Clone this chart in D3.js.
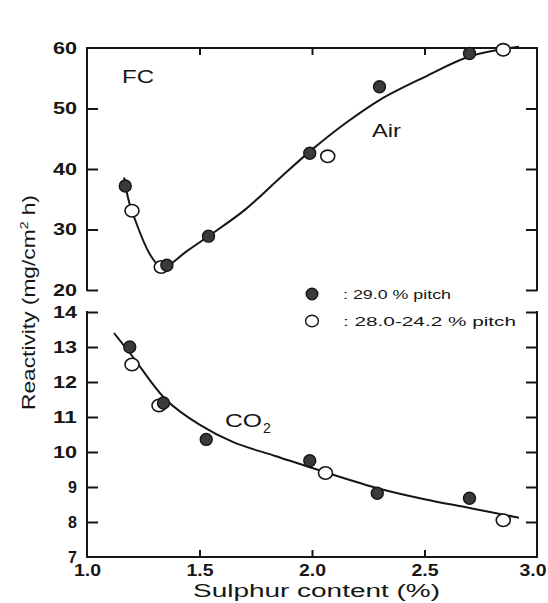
<!DOCTYPE html>
<html>
<head>
<meta charset="utf-8">
<script src="https://cdn.jsdelivr.net/npm/d3@7"></script>
<style>
  html, body { margin: 0; padding: 0; background: #fff; }
  svg { display: block; }
  text { font-family: "Liberation Sans", Arial, Helvetica, sans-serif; fill: #161616; }
</style>
</head>
<body>
<svg id="chart" width="548" height="603"></svg>
<script>
// ---- Data ----
const airFilledX = [1.17, 1.355, 1.54, 1.99, 2.30, 2.70];
const airFilledY = [37.2, 24.1, 28.9, 42.6, 53.6, 59.1];
const airOpenX   = [1.20, 1.33, 2.07, 2.85];
const airOpenY   = [33.1, 23.8, 42.1, 59.7];

const co2FilledX = [1.19, 1.34, 1.53, 1.99, 2.29, 2.70];
const co2FilledY = [13.0, 11.4, 10.36, 9.75, 8.82, 8.68];
const co2OpenX   = [1.20, 1.32, 2.06, 2.85];
const co2OpenY   = [12.5, 11.33, 9.4, 8.05];

// hand-drawn fitted curves
const airFitX = [1.165, 1.2, 1.33, 1.45, 1.54, 1.7, 1.86, 2.0, 2.15, 2.3, 2.5, 2.7, 2.92];
const airFitY = [38.6, 33.0, 23.9, 26.6, 28.9, 33.2, 38.6, 43.2, 47.6, 51.4, 55.2, 58.6, 60.2];
const co2FitX = [1.12, 1.2, 1.35, 1.5, 1.65, 1.84, 2.06, 2.3, 2.5, 2.7, 2.92];
const co2FitY = [13.4, 12.75, 11.5, 10.78, 10.28, 9.88, 9.42, 8.95, 8.65, 8.4, 8.12];

const xTicks = [1.0, 1.5, 2.0, 2.5, 3.0];
const xTickLabels = ["1.0", "1.5", "2.0", "2.5", "3.0"];
const airTicks = [20, 30, 40, 50, 60];
const co2Ticks = [7, 8, 9, 10, 11, 12, 13, 14];
const legendLabels = [": 29.0 % pitch", ": 28.0-24.2 % pitch"];

// ---- Layout ----
const svg = d3.select("#chart");
const x = d3.scaleLinear().domain([1, 3]).range([87, 537]);
const yTop = d3.scaleLinear().domain([20, 60]).range([290, 48]);
const yBot = d3.scaleLinear().domain([7, 14]).range([557, 312]);

const AX = 2;
const ink = "#161616";

function line(x1, y1, x2, y2) {
  svg.append("line").attr("x1", x1).attr("y1", y1).attr("x2", x2).attr("y2", y2)
    .attr("stroke", ink).attr("stroke-width", AX).attr("stroke-linecap", "square");
}
line(x(1), yTop(60), x(1), yTop(20));
line(x(1), yTop(60), x(3), yTop(60));
line(x(3), yTop(60), x(3), yTop(20));
line(x(1), yBot(14), x(1), yBot(7));
line(x(1), yBot(7), x(3), yBot(7));
line(x(3), yBot(14), x(3), yBot(7));

function styleAxis(g) {
  g.select(".domain").remove();
  g.selectAll(".tick line").attr("stroke", ink).attr("stroke-width", AX);
  g.selectAll(".tick text")
    .style("font-size", "16px").style("font-weight", "bold")
    .style("font-family", '"Liberation Sans", Arial, sans-serif').attr("fill", ink);
}
// widen glyphs (the reference font is broad)
function stretch(g, w2) {
  g.selectAll(".tick text").each(function () {
    const t = d3.select(this).text();
    if (t.length >= 2) d3.select(this).attr("textLength", w2 * t.length / 2).attr("lengthAdjust", "spacingAndGlyphs");
  });
}

svg.append("g").attr("transform", `translate(${x(1)},0)`)
  .call(d3.axisLeft(yTop).tickValues(airTicks).tickSize(-11).tickPadding(10).tickFormat(d3.format("d")))
  .call(styleAxis).call(g => stretch(g, 24))
  .call(g => g.selectAll(".tick").filter(d => d === 60).select("line").remove());
svg.append("g").attr("transform", `translate(${x(1)},0)`)
  .call(d3.axisLeft(yBot).tickValues(co2Ticks).tickSize(-11).tickPadding(10).tickFormat(d3.format("d")))
  .call(styleAxis).call(g => stretch(g, 24))
  .call(g => g.selectAll(".tick").filter(d => d === 7).select("line").remove());

svg.append("g").attr("transform", `translate(${x(3)},0)`)
  .call(d3.axisRight(yTop).tickValues(airTicks.filter(d => d < 60)).tickSize(-11).tickFormat(""))
  .call(styleAxis);
svg.append("g").attr("transform", `translate(${x(3)},0)`)
  .call(d3.axisRight(yBot).tickValues(co2Ticks.filter(d => d > 7)).tickSize(-11).tickFormat(""))
  .call(styleAxis);

svg.append("g").attr("transform", `translate(0,${yTop(60)})`)
  .call(d3.axisTop(x).tickValues(xTicks.filter(d => d > 1 && d < 3)).tickSize(-7).tickFormat(""))
  .call(styleAxis);
const bx = svg.append("g").attr("transform", `translate(0,${yBot(7)})`)
  .call(d3.axisBottom(x).tickValues(xTicks).tickSize(-7).tickPadding(8)
    .tickFormat((d, i) => xTickLabels[i]))
  .call(styleAxis).call(g => stretch(g, 18));
bx.selectAll(".tick").filter(d => d === 1 || d === 3).select("line").remove();
// keep the last label inside the picture
bx.selectAll(".tick").filter(d => d === 3).select("text").attr("text-anchor", "end").attr("x", 9);

// fitted curves
const curveGen = (ys) => d3.line().x(d => x(d[0])).y(d => ys(d[1])).curve(d3.curveCatmullRom.alpha(0.5));
svg.append("path").datum(d3.zip(airFitX, airFitY))
  .attr("d", curveGen(yTop)).attr("fill", "none").attr("stroke", ink).attr("stroke-width", 2);
svg.append("path").datum(d3.zip(co2FitX, co2FitY))
  .attr("d", curveGen(yBot)).attr("fill", "none").attr("stroke", ink).attr("stroke-width", 2);

// markers
function openPts(xs, ys, sc) {
  svg.append("g").selectAll("ellipse").data(d3.zip(xs, ys)).join("ellipse")
    .attr("cx", d => x(d[0])).attr("cy", d => sc(d[1]))
    .attr("rx", 7).attr("ry", 6.2)
    .attr("fill", "#fff").attr("stroke", ink).attr("stroke-width", 1.6);
}
function filledPts(xs, ys, sc) {
  svg.append("g").selectAll("circle").data(d3.zip(xs, ys)).join("circle")
    .attr("cx", d => x(d[0])).attr("cy", d => sc(d[1]))
    .attr("r", 6)
    .attr("fill", "#3a3a3a").attr("stroke", ink).attr("stroke-width", 1.4);
}
openPts(airOpenX, airOpenY, yTop);
filledPts(airFilledX, airFilledY, yTop);
openPts(co2OpenX, co2OpenY, yBot);
filledPts(co2FilledX, co2FilledY, yBot);

// labels in plot
function fitText(sel, w) { sel.attr("textLength", w).attr("lengthAdjust", "spacingAndGlyphs"); return sel; }
fitText(svg.append("text").attr("x", 122).attr("y", 83).style("font-size", "18px").text("FC"), 32);
fitText(svg.append("text").attr("x", 372).attr("y", 137).style("font-size", "18px").text("Air"), 29);
fitText(svg.append("text").attr("x", 225).attr("y", 427).style("font-size", "19px").text("CO"), 37);
svg.append("text").attr("x", 263).attr("y", 433).style("font-size", "14px").text("2");

// legend
const leg = svg.append("g");
leg.append("circle").attr("cx", 312).attr("cy", 294).attr("r", 5.8)
  .attr("fill", "#3a3a3a").attr("stroke", ink).attr("stroke-width", 1.4);
leg.append("ellipse").attr("cx", 312).attr("cy", 321).attr("rx", 6.4).attr("ry", 5.8)
  .attr("fill", "#fff").attr("stroke", ink).attr("stroke-width", 1.4);
fitText(leg.append("text").attr("x", 343).attr("y", 299).style("font-size", "13.5px").text(legendLabels[0]), 108);
fitText(leg.append("text").attr("x", 343).attr("y", 326).style("font-size", "13.5px").text(legendLabels[1]), 173);

// axis titles
fitText(svg.append("text").attr("x", 193).attr("y", 597)
  .style("font-size", "18px").text("Sulphur content   (%)"), 247);

const yl = svg.append("text").style("font-size", "18px");
yl.append("tspan").text("Reactivity  (mg/cm");
yl.append("tspan").attr("dy", -7).style("font-size", "11px").text("2");
yl.append("tspan").attr("dy", 7).text(" h)");
{
  const w = yl.node().getComputedTextLength();
  yl.attr("transform", `translate(35,410) rotate(-90) scale(${215 / w},1)`);
}
</script>
</body>
</html>
